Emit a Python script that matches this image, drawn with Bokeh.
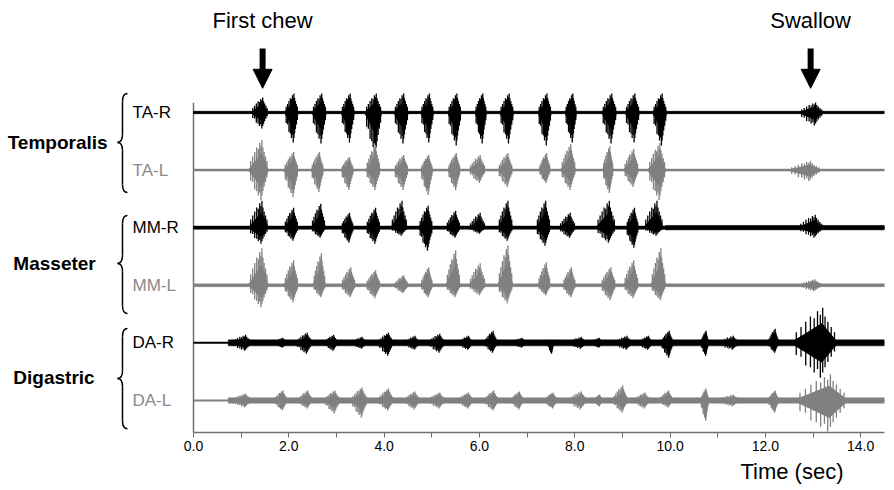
from bokeh.plotting import figure
from bokeh.models import FixedTicker, NumeralTickFormatter, Label, Arrow, NormalHead, Range1d, Title
from bokeh.embed import file_html
from bokeh.resources import INLINE

# ---------------- data ----------------
channels = ["TA-R", "TA-L", "MM-R", "MM-L", "DA-R", "DA-L"]
channel_side = ["R", "L", "R", "L", "R", "L"]
muscles = ["Temporalis", "Masseter", "Digastric"]
events = ["First chew", "Swallow"]
event_times = [1.45, 12.95]
x_ticks = [0, 2, 4, 6, 8, 10, 12, 14]
x_minor = [1, 3, 5, 7, 9, 11, 13]

# bursts: onset (s), offset (s), positive peak (a.u.), negative peak (a.u.)
ta_r_on = [1.20, 1.91, 2.48, 3.09, 3.59, 4.20, 4.76, 5.33, 5.90, 6.42, 7.22, 7.79, 8.56, 9.05, 9.63, 12.70]
ta_r_off = [1.57, 2.20, 2.79, 3.38, 3.95, 4.51, 5.04, 5.62, 6.15, 6.72, 7.51, 8.04, 8.88, 9.36, 9.93, 13.22]
ta_r_up = [15, 19, 19, 19, 19, 19, 19, 19, 19, 19, 19, 19, 19, 19, 19, 10]
ta_r_dn = [16, 30, 31, 30, 41, 31, 30, 33, 31, 31, 33, 30, 31, 30, 33, 13]

ta_l_on = [1.15, 1.89, 2.46, 3.09, 3.61, 4.20, 4.76, 5.33, 5.77, 6.38, 7.24, 7.70, 8.58, 9.02, 9.53, 12.47]
ta_l_off = [1.57, 2.20, 2.73, 3.36, 3.92, 4.51, 5.02, 5.60, 6.13, 6.70, 7.49, 8.02, 8.81, 9.34, 9.91, 13.17]
ta_l_up = [30, 18, 18, 13, 25, 15, 15, 17, 15, 17, 17, 26, 24, 21, 27, 9]
ta_l_dn = [30, 27, 22, 20, 20, 20, 25, 20, 13, 17, 13, 20, 23, 17, 30, 11]

mm_r_on = [1.15, 1.89, 2.46, 3.09, 3.61, 4.13, 4.72, 5.29, 5.77, 6.38, 7.18, 7.66, 8.44, 9.07, 9.44, 12.68]
mm_r_off = [1.57, 2.20, 2.77, 3.36, 3.92, 4.49, 5.02, 5.60, 6.13, 6.70, 7.49, 8.02, 8.86, 9.34, 9.86, 13.22]
mm_r_up = [27, 20, 24, 15, 20, 27, 22, 17, 15, 27, 27, 15, 27, 20, 27, 13]
mm_r_dn = [16, 13, 10, 15, 16, 8, 23, 10, 6, 13, 18, 10, 15, 20, 8, 10]

mm_l_on = [1.15, 1.89, 2.50, 3.09, 3.61, 4.20, 4.76, 5.29, 5.77, 6.38, 7.22, 7.74, 8.54, 9.02, 9.59, 12.70]
mm_l_off = [1.57, 2.20, 2.77, 3.40, 3.92, 4.51, 5.02, 5.60, 6.13, 6.70, 7.49, 8.02, 8.86, 9.34, 9.91, 13.20]
mm_l_up = [37, 25, 32, 18, 15, 10, 18, 35, 22, 40, 23, 18, 18, 25, 37, 6]
mm_l_dn = [22, 17, 12, 12, 13, 8, 12, 12, 10, 18, 10, 12, 15, 13, 15, 6]

da_r_on = [0.78, 1.68, 2.14, 2.73, 3.30, 3.86, 4.41, 4.91, 5.54, 6.09, 6.65, 7.43, 7.85, 8.33, 8.81, 9.32, 9.80, 10.64, 11.00, 12.05, 12.53]
da_r_off = [1.24, 1.97, 2.50, 3.04, 3.65, 4.20, 4.76, 5.29, 5.88, 6.38, 7.01, 7.56, 8.27, 8.60, 9.23, 9.65, 10.07, 10.81, 11.48, 12.28, 13.52]
da_r_up = [8, 5, 10, 8, 6, 10, 7, 9, 7, 12, 5, 3, 6, 5, 7, 7, 12, 12, 7, 14, 35]
da_r_dn = [8, 5, 11, 8, 6, 13, 7, 10, 7, 10, 5, 11, 6, 5, 7, 7, 15, 13, 7, 10, 35]

da_l_on = [0.78, 1.68, 2.18, 2.73, 3.30, 3.86, 4.41, 4.91, 5.54, 6.09, 6.65, 7.35, 7.85, 8.40, 8.79, 9.23, 9.76, 10.64, 11.00, 12.05, 12.59]
da_l_off = [1.24, 1.97, 2.50, 3.08, 3.65, 4.20, 4.76, 5.29, 5.88, 6.40, 6.93, 7.64, 8.27, 8.58, 9.11, 9.59, 10.07, 10.81, 11.48, 12.28, 13.73]
da_l_up = [7, 10, 10, 10, 13, 12, 9, 8, 8, 10, 9, 8, 9, 6, 15, 8, 10, 12, 6, 10, 26]
da_l_dn = [7, 10, 8, 13, 17, 10, 9, 8, 8, 10, 9, 8, 9, 6, 12, 8, 7, 20, 6, 12, 31]

# background activity: start (s), end (s), level (a.u.)
noise_start = [[0.0], [0.0], [0.0, 9.9], [0.0], [0.73], [0.73]]
noise_end = [[14.5], [14.5], [14.5, 14.5], [14.5], [14.5], [14.5]]
noise_level = [[1.2], [1.0], [1.6, 2.2], [1.4], [3.0], [2.8]]

burst_on = [ta_r_on, ta_l_on, mm_r_on, mm_l_on, da_r_on, da_l_on]
burst_off = [ta_r_off, ta_l_off, mm_r_off, mm_l_off, da_r_off, da_l_off]
burst_up = [ta_r_up, ta_l_up, mm_r_up, mm_l_up, da_r_up, da_l_up]
burst_dn = [ta_r_dn, ta_l_dn, mm_r_dn, mm_l_dn, da_r_dn, da_l_dn]

# ---------------- style ----------------
FONT = "Liberation Sans"
BLACK = "#000000"
GREY = "#808080"
LABEL_GREY = "#8a8a8a"
AXIS_GREY = "#707070"
GAIN = 1 / 57.6      # a.u. -> trace spacing
CORE = 0.55
T_END = 14.5
offsets = [5, 4, 3, 2, 1, 0]
# burst glyph template (fraction of burst width, fraction of peak height)
spike_pos = [0.12, 0.22, 0.32, 0.42, 0.5, 0.57, 0.63, 0.68, 0.73, 0.79, 0.86, 0.93]
spike_hgt_up = [0.30, 0.45, 0.60, 0.75, 0.70, 0.90, 0.80, 1.00, 0.75, 0.60, 0.45, 0.30]
spike_hgt_dn = [0.35, 0.40, 0.65, 0.70, 0.85, 0.75, 1.00, 0.85, 0.70, 0.55, 0.40, 0.25]

p = figure(width=894, height=490, output_backend="svg", toolbar_location=None,
           x_range=Range1d(-4.05, 14.5), y_range=Range1d(-0.556, 6.944),
           min_border_left=0, min_border_right=10, min_border_top=0, min_border_bottom=58,
           y_axis_location=None)
p.outline_line_color = None
p.xgrid.visible = False
p.ygrid.visible = False
p.background_fill_color = "white"

# x axis
ax = p.xaxis[0]
ax.bounds = (0, T_END)
ax.ticker = FixedTicker(ticks=x_ticks, minor_ticks=x_minor)
ax.formatter = NumeralTickFormatter(format="0.0")
ax.axis_line_color = AXIS_GREY
ax.axis_line_width = 1.5
ax.major_tick_line_color = AXIS_GREY
ax.minor_tick_line_color = AXIS_GREY
ax.major_tick_out = 5
ax.major_tick_in = 0
ax.minor_tick_out = 5
ax.minor_tick_in = 0
ax.major_label_text_font = FONT
ax.major_label_text_font_size = "14px"
ax.major_label_text_color = BLACK
ax.major_label_standoff = 3

# axis title, right-aligned under the axis
ttl = Title(text="Time (sec)", align="right", offset=41, text_font=FONT,
            text_font_size="22px", text_font_style="normal", text_color=BLACK, standoff=7)
p.add_layout(ttl, "below")

# left vertical line at t = 0
p.segment(x0=[0], y0=[-0.556], x1=[0], y1=[5.17], line_color=AXIS_GREY, line_width=1.5)

for i, ch in enumerate(channels):
    base = offsets[i]
    col = BLACK if channel_side[i] == "R" else GREY
    # baseline
    p.line(x=[0, T_END], y=[base, base], line_color=col, line_width=2)
    # background activity bands
    for s, e, lv in zip(noise_start[i], noise_end[i], noise_level[i]):
        p.quad(left=[s], right=[e], bottom=[base - lv * GAIN], top=[base + lv * GAIN],
               fill_color=col, line_color=col, line_width=0.5)
    xs, ys = [], []
    sx, sy0, sy1 = [], [], []
    for on, off, up, dn in zip(burst_on[i], burst_off[i], burst_up[i], burst_dn[i]):
        w = off - on
        pk = on + 0.66 * w
        mid = on + 0.3 * w
        u = up * GAIN
        d = dn * GAIN
        xs.append([on, mid, pk, off, pk, mid])
        ys.append([base, base + 0.45 * u * CORE, base + u * CORE, base,
                   base - d * CORE, base - 0.45 * d * CORE])
        for f, hu, hd in zip(spike_pos, spike_hgt_up, spike_hgt_dn):
            sx.append(on + f * w)
            sy0.append(base - hd * d)
            sy1.append(base + hu * u)
    p.patches(xs=xs, ys=ys, fill_color=col, line_color=col, line_width=1)
    p.segment(x0=sx, y0=sy0, x1=sx, y1=sy1, line_color=col, line_width=1.3)
    # channel label
    p.add_layout(Label(x=-1.28, y=base, text=ch, text_font=FONT, text_font_size="17px",
                       text_color=BLACK if channel_side[i] == "R" else LABEL_GREY,
                       text_baseline="middle", text_align="left"))

# muscle group labels and braces
group_label_x = [-3.90, -3.78, -3.78]
group_label_y = [4.48, 2.38, 0.40]
brace_top = [5.33, 3.21, 1.25]
brace_bot = [3.61, 1.51, -0.49]
brace_mid = [4.48, 2.38, 0.38]
xt, xs_, xe = -1.595, -1.49, -1.385
dd = 0.14
for k, m in enumerate(muscles):
    p.add_layout(Label(x=group_label_x[k], y=group_label_y[k], text=m, text_font=FONT,
                       text_font_size="19px", text_font_style="bold", text_color=BLACK,
                       text_baseline="middle", text_align="left"))
    yt, yb, ym = brace_top[k], brace_bot[k], brace_mid[k]
    p.quadratic(x0=[xe, xs_, xt, xs_], y0=[yt, ym + dd, ym, yb + dd],
                x1=[xs_, xt, xs_, xe], y1=[yt - dd, ym, ym - dd, yb],
                cx=[xs_, xs_, xs_, xs_], cy=[yt, ym, ym, yb],
                line_color=BLACK, line_width=1.5)
    p.segment(x0=[xs_, xs_], y0=[yt - dd, ym - dd], x1=[xs_, xs_], y1=[ym + dd, yb + dd],
              line_color=BLACK, line_width=1.5)

# event arrows and labels
for name, t in zip(events, event_times):
    p.add_layout(Arrow(end=NormalHead(size=19, fill_color=BLACK, line_color=BLACK),
                       x_start=t, y_start=6.11, x_end=t, y_end=5.42,
                       line_color=BLACK, line_width=6))
    p.add_layout(Label(x=t, y=6.60, text=name, text_font=FONT, text_font_size="22px",
                       text_color=BLACK, text_baseline="middle", text_align="center"))

open("out.html", "w").write(file_html(p, INLINE))
